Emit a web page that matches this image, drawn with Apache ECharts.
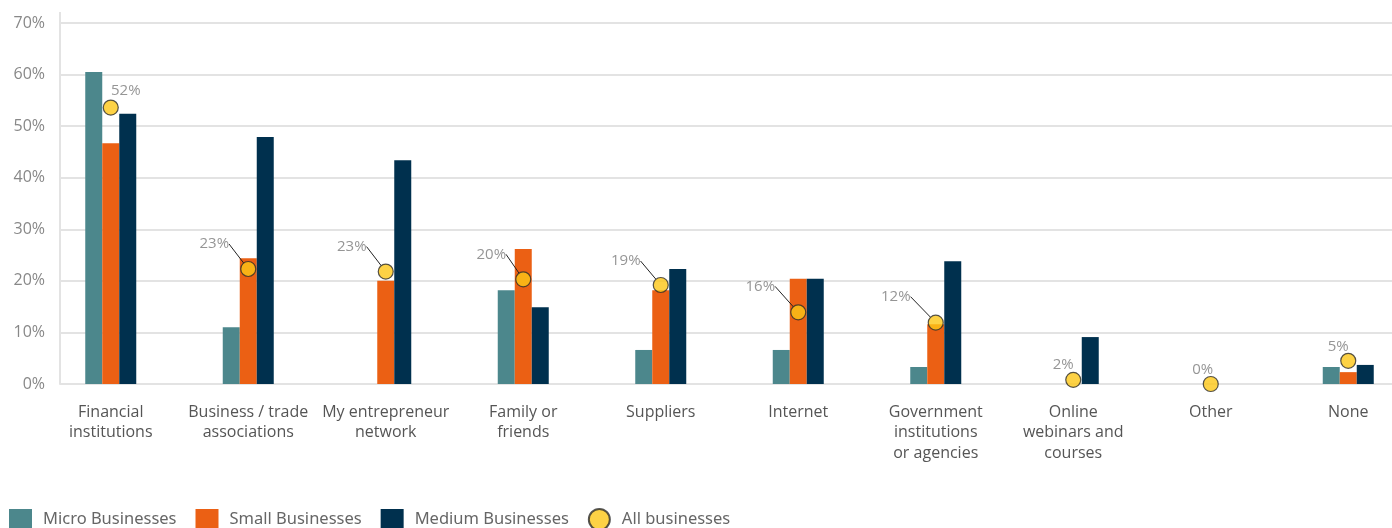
<!DOCTYPE html>
<html>
<head>
<meta charset="utf-8">
<script src="https://cdn.jsdelivr.net/npm/echarts@6/dist/echarts.min.js"></script>
<style>
html,body{margin:0;padding:0;background:#fff;overflow:hidden;width:1392px;height:528px;}
#chart{width:1417px;height:528px;}
</style>
</head>
<body>
<div id="chart"></div>
<script>
const categories = [
  "Financial\ninstitutions",
  "Business / trade\nassociations",
  "My entrepreneur\nnetwork",
  "Family or\nfriends",
  "Suppliers",
  "Internet",
  "Government\ninstitutions\nor agencies",
  "Online\nwebinars and\ncourses",
  "Other",
  "None"
];
const microValues  = [60.5, 11.0, 0,    18.2, 6.6,  6.6,  3.3,  0,   0, 3.3];
const smallValues  = [46.7, 24.4, 20.0, 26.2, 18.2, 20.4, 11.6, 0,   0, 2.3];
const mediumValues = [52.4, 47.9, 43.4, 14.9, 22.3, 20.4, 23.8, 9.1, 0, 3.7];
const allValues    = [53.6, 22.3, 21.8, 20.3, 19.2, 13.9, 11.9, 0.8, 0, 4.5];
const allLabels    = ["52%", "23%", "23%", "20%", "19%", "16%", "12%", "2%", "0%", "5%"];
const yTicks = [0, 10, 20, 30, 40, 50, 60, 70];

// label placement (layout only)
const labelOffsets = [[15,-17],[-34,-25],[-34,-25],[-32,-25],[-35,-24],[-38,-26],[-40,-26],[-10,-15],[-8,-14],[-10,-14]];
const labelLineOn  = [false,true,true,true,true,true,true,false,false,false];

const chart = echarts.init(document.getElementById('chart'), null, {renderer:'canvas'});
const gridColor = '#e3e3e3';
const yMin = yTicks[0], yMax = yTicks[yTicks.length-1], yInt = yTicks[1]-yTicks[0];

chart.setOption({
  animation:false,
  backgroundColor:'#fff',
  textStyle:{fontFamily:'Open Sans'},
  grid:[
    {left:42, top:23, right:0, height:361},
    {left:60, top:23, right:25, height:361}
  ],
  xAxis:[
    {type:'category', gridIndex:0, data:categories,
     axisLine:{show:false}, axisTick:{show:false},
     axisLabel:{interval:0, margin:18, fontSize:16, lineHeight:20.5, color:'#555', fontFamily:'Open Sans'}},
    {type:'value', gridIndex:1, show:false}
  ],
  yAxis:[
    {type:'value', gridIndex:0, min:yMin, max:yMax, interval:yInt, show:false},
    {type:'value', gridIndex:1, min:yMin, max:yMax, interval:yInt,
     axisLine:{show:true, lineStyle:{color:gridColor, width:2}},
     axisTick:{show:false},
     splitLine:{show:true, lineStyle:{color:gridColor, width:2}},
     axisLabel:{formatter:'{value}%', margin:15, fontSize:16, color:'#888', fontFamily:'Open Sans'}}
  ],
  graphic:[
    {type:'line', shape:{x1:60, y1:12, x2:60, y2:23}, style:{stroke:gridColor, lineWidth:2}}
  ],
  legend:{
    left:9, top:508, padding:0, itemWidth:23, itemHeight:21, itemGap:19,
    textStyle:{fontSize:16.5, color:'#666', fontFamily:'Noto Sans', padding:[0,0,0,6]},
    data:[
      {name:'Micro Businesses', icon:'rect'},
      {name:'Small Businesses', icon:'rect'},
      {name:'Medium Businesses', icon:'rect'},
      {name:'All businesses', icon:'circle'}
    ]
  },
  series:[
    {name:'Micro Businesses', type:'bar', xAxisIndex:0, yAxisIndex:0, data:microValues,
     barWidth:17, barGap:'0%', itemStyle:{color:'#4C878C'}},
    {name:'Small Businesses', type:'bar', xAxisIndex:0, yAxisIndex:0, data:smallValues,
     barWidth:17, barGap:'0%', itemStyle:{color:'#EB6014'}},
    {name:'Medium Businesses', type:'bar', xAxisIndex:0, yAxisIndex:0, data:mediumValues,
     barWidth:17, barGap:'0%', itemStyle:{color:'#00304E'}},
    {name:'All businesses', type:'scatter', xAxisIndex:0, yAxisIndex:0, z:5,
     symbol:'circle', symbolSize:15,
     itemStyle:{color:'#FDC716', borderColor:'#2a2a2a', borderWidth:1.2},
     data:allValues.map((v,i)=>({value:v, labelLine:{show:labelLineOn[i]}})),
     label:{show:true, position:'inside', formatter:p=>allLabels[p.dataIndex],
            fontSize:15, color:'#7a7a7a', fontFamily:'Open Sans', padding:[0,0,3,0]},
     labelLine:{show:true, lineStyle:{color:'#222', width:1}},
     labelLayout:function(params){
       const o = labelOffsets[params.dataIndex];
       return {dx:o[0], dy:o[1]};
     }}
  ]
});
</script>
</body>
</html>
